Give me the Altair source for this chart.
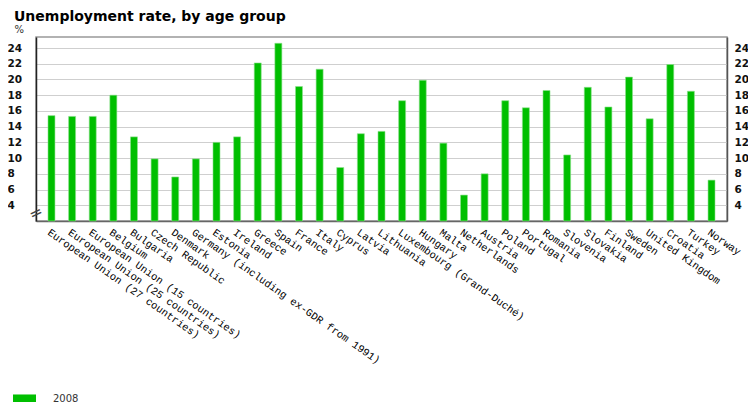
import altair as alt
import pandas as pd

countries = [
    "European Union (27 countries)", "European Union (25 countries)", "European Union (15 countries)",
    "Belgium", "Bulgaria", "Czech Republic", "Denmark", "Germany (including ex-GDR from 1991)",
    "Estonia", "Ireland", "Greece", "Spain", "France", "Italy", "Cyprus", "Latvia", "Lithuania",
    "Luxembourg (Grand-Duché)", "Hungary", "Malta", "Netherlands", "Austria", "Poland", "Portugal",
    "Romania", "Slovenia", "Slovakia", "Finland", "Sweden", "United Kingdom", "Croatia", "Turkey", "Norway",
]
values = [
    15.4, 15.3, 15.3, 18.0, 12.7, 9.9, 7.6, 9.9, 12.0, 12.7, 22.1, 24.6, 19.1, 21.3, 8.8, 13.1, 13.4,
    17.3, 19.9, 11.9, 5.3, 8.0, 17.3, 16.4, 18.6, 10.4, 19.0, 16.5, 20.3, 15.0, 21.9, 18.5, 7.2,
]
years = ["2008"] * len(countries)
tick_values = [4, 6, 8, 10, 12, 14, 16, 18, 20, 22, 24]
y_domain = [2, 25.4]
break_at = [3]

df = pd.DataFrame({"country": countries, "value": values, "year": years})

W, H = 691, 184
yscale = alt.Scale(domain=y_domain, zero=False, nice=False)

xenc = alt.X(
    "country:N", sort=None,
    scale=alt.Scale(paddingInner=0, paddingOuter=0.25),
    axis=alt.Axis(
        title=None, labelAngle=35, labelAlign="left", labelBaseline="top", labelPadding=6,
        labelFont="Liberation Mono", labelFontSize=10.5, labelColor="#000", labelLimit=400,
        labelOverlap=False, ticks=False, domainColor="#666", domainWidth=1.5,
    ),
)

bars = alt.Chart(df).mark_bar(size=7, stroke="#8FE08F", strokeWidth=0.6).encode(
    x=xenc,
    y=alt.Y(
        "value:Q", scale=yscale,
        axis=alt.Axis(
            orient="left", values=tick_values, grid=True, gridColor="#CFCFCF", gridWidth=1,
            ticks=False, tickSize=0, labelAlign="left", labelPadding=29, labelBaseline="middle",
            labelFont="DejaVu Sans", labelFontWeight="bold", labelFontSize=10.5, labelColor="#111",
            domainColor="#222", domainWidth=1.5,
            title="%", titleAngle=0, titleAlign="left", titleBaseline="alphabetic",
            titleX=-22, titleY=-5, titleFont="DejaVu Sans", titleFontSize=10,
            titleFontWeight="normal", titleColor="#333",
        ),
    ),
    y2=alt.datum(2),
    color=alt.Color(
        "year:N", scale=alt.Scale(domain=["2008"], range=["#00BF00"]),
        legend=alt.Legend(
            title=None, orient="none", legendX=-23, legendY=350,
            symbolType="M-1,-0.35H1V0.35H-1Z", symbolSize=529, symbolStrokeWidth=0,
            labelFont="DejaVu Sans", labelFontSize=10, labelColor="#333", labelOffset=17, padding=0,
        ),
    ),
)

right = alt.Chart(df).mark_bar(size=7, opacity=0).encode(
    x=xenc,
    y=alt.Y(
        "value:Q", scale=yscale,
        axis=alt.Axis(
            orient="right", values=tick_values, grid=False, ticks=False, tickSize=0,
            labelAlign="left", labelPadding=7, labelBaseline="middle",
            labelFont="DejaVu Sans", labelFontWeight="bold", labelFontSize=10.5, labelColor="#111",
            domainColor="#555", domainWidth=1.5, title=None,
        ),
    ),
)

brk = alt.Chart(pd.DataFrame({"v": break_at})).mark_text(
    text="=", angle=335, fontSize=16, font="DejaVu Sans", color="#444"
).encode(
    x=alt.value(0),
    y=alt.Y("v:Q", scale=yscale, axis=None),
)

chart = alt.layer(bars, right, brk).resolve_scale(y="shared").resolve_axis(y="independent").properties(
    width=W, height=H,
    autosize=alt.AutoSizeParams(type="none"),
    padding={"left": 28, "top": 29, "right": 21, "bottom": 181},
    title=alt.TitleParams(
        "Unemployment rate, by age group", anchor="start", frame="group", dx=-22, dy=4,
        font="DejaVu Sans", fontSize=14, fontWeight="bold", color="#000", offset=4,
    ),
).configure_view(stroke="#999", strokeWidth=1.5)

chart.save("out.html", embed_options={"renderer": "svg", "actions": False})
